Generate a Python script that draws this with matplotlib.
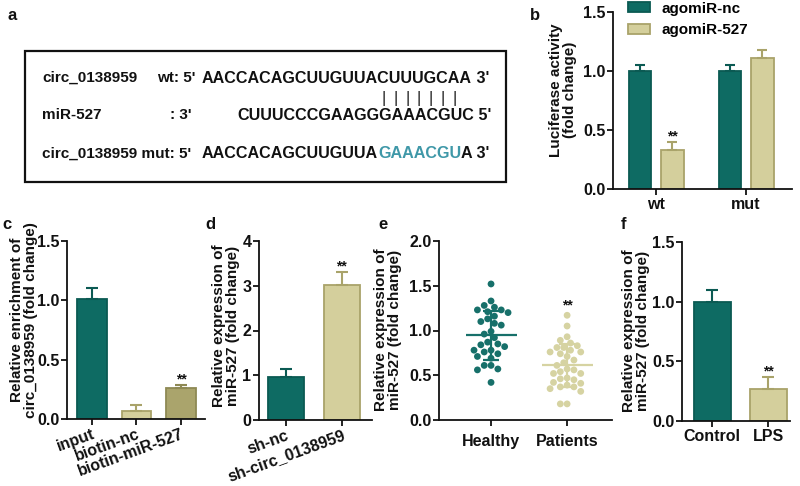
import numpy as np
import matplotlib
matplotlib.use('Agg')
import matplotlib.pyplot as plt
import matplotlib.transforms as mtransforms
from matplotlib.patches import Rectangle, Patch

plt.rcParams['font.family'] = ['Liberation Sans', 'DejaVu Sans']
plt.rcParams['font.weight'] = 'bold'
plt.rcParams['axes.labelweight'] = 'bold'

# ---------------- data ----------------
a_row1_label = "circ_0138959"
a_row1_mid = "wt: 5'"
a_wt_seq = "AACCACAGCUUGUUACUUUGCAA"
a_row2_label = "miR-527"
a_row2_mid = ": 3'"
a_mir_seq = "CUUUCCCGAAGGGAAACGUC"
a_row3_label = "circ_0138959 mut: 5'"
a_mut_prefix = "AACCACAGCUUGUUA"
a_mut_site = "GAAACGU"
a_mut_suffix = "A"

b_groups = ['wt', 'mut']
b_series = ['agomiR-nc', 'agomiR-527']
b_nc = [1.00, 1.00]
b_nc_err = [0.05, 0.05]
b_527 = [0.33, 1.11]
b_527_err = [0.07, 0.07]

c_cats = ['input', 'biotin-nc', 'biotin-miR-527']
c_vals = [1.01, 0.07, 0.26]
c_err = [0.09, 0.05, 0.03]

d_cats = ['sh-nc', 'sh-circ_0138959']
d_vals = [0.97, 3.02]
d_err = [0.18, 0.28]

e_cats = ['Healthy', 'Patients']
e_healthy = [1.52, 1.33, 1.28, 1.26, 1.23, 1.23, 1.21, 1.20, 1.16, 1.13, 1.10,
             1.08, 1.06, 0.99, 0.96, 0.92, 0.87, 0.85, 0.84, 0.82, 0.78, 0.78,
             0.76, 0.74, 0.71, 0.69, 0.61, 0.61, 0.57, 0.56, 0.42]
e_patients = [1.17, 1.05, 0.93, 0.89, 0.86, 0.83, 0.81, 0.81, 0.78, 0.76, 0.76,
              0.74, 0.71, 0.67, 0.64, 0.61, 0.57, 0.56, 0.54, 0.52, 0.52, 0.47,
              0.46, 0.45, 0.42, 0.41, 0.39, 0.37, 0.37, 0.35, 0.32, 0.18, 0.18]

f_cats = ['Control', 'LPS']
f_vals = [1.00, 0.27]
f_err = [0.10, 0.10]

# ---------------- style ----------------
TEAL = '#0e6b63'
TEAL_E = '#0b5a53'
KHAKI = '#d4cf9c'
KHAKI_E = '#a9a36a'
OLIVE = '#aaa46c'
OLIVE_E = '#8e8954'
DOT_T = '#17706a'
DOT_K = '#d6d3a2'
MUT_C = '#3f98a8'
INK = '#111111'

W, H = 800, 486
fig = plt.figure(figsize=(W / 100, H / 100), dpi=100)
renderer = fig.canvas.get_renderer()

FS = 11
SEQ_FS = 11.6
TFS = 11.5


def fx(x):
    return x / W


def fy(y):
    return 1 - y / H


def add_ax(l, r, t, b):
    return fig.add_axes([fx(l), fy(b), (r - l) / W, (b - t) / H])


def style(ax, ylim, yticks, fmt):
    for s in ['top', 'right']:
        ax.spines[s].set_visible(False)
    for s in ['left', 'bottom']:
        ax.spines[s].set_linewidth(1.3)
        ax.spines[s].set_color(INK)
    ax.set_ylim(*ylim)
    ax.set_yticks(yticks)
    ax.set_yticklabels([fmt.format(v) for v in yticks])
    ax.tick_params(direction='out', length=4, width=1.3, labelsize=TFS,
                   pad=1.5, colors=INK)
    ax.patch.set_alpha(0)


def up_err(ax, x, y, e, color, cap=4.5):
    ax.errorbar(x, y, yerr=[np.zeros(len(y)), e], fmt='none', ecolor=color,
                elinewidth=1.5, capsize=cap, capthick=1.5, zorder=3)


def stars(ax, x, y):
    ax.annotate('**', (x, y), xytext=(0, -1), textcoords='offset points',
                ha='center', va='bottom', fontsize=10, color=INK)


def label(x, y, s):
    fig.text(fx(x), fy(y), s, fontsize=12, fontweight='bold', ha='left',
             va='center', color=INK)


def ylab(x, y, s):
    fig.text(fx(x), fy(y), s, rotation=90, fontsize=FS, ha='center',
             va='center', multialignment='center', linespacing=1.05, color=INK)


# ---------------- panel a ----------------
label(8, 15, 'a')
fig.patches.append(Rectangle((fx(25), fy(182)), (506 - 25) / W, (182 - 51) / H,
                             transform=fig.transFigure, fill=False,
                             linewidth=1.6, edgecolor=INK))


def put(x, y, s, color=INK, fs=SEQ_FS):
    t = fig.text(fx(x), fy(y), s, fontsize=fs, ha='left', va='center',
                 color=color)
    return t.get_window_extent(renderer).width


def width(s, fs=SEQ_FS):
    t = fig.text(0, 0, s, fontsize=fs)
    w = t.get_window_extent(renderer).width
    t.remove()
    return w


SEQ_X = 202
put(42, 78, a_row1_label, fs=FS)
put(157, 78, a_row1_mid, fs=FS)
w1 = put(SEQ_X, 78, a_wt_seq)
put(SEQ_X + w1, 78, " 3'")

put(42, 115, a_row2_label, fs=FS)
put(170, 115, a_row2_mid, fs=FS)
mir_x = SEQ_X + width(a_wt_seq[:3])
w2 = put(mir_x, 115, a_mir_seq)
put(mir_x + w2, 115, " 5'")

for i in range(15, 22):
    cx = SEQ_X + width(a_wt_seq[:i]) + width(a_wt_seq[i]) / 2
    fig.text(fx(cx), fy(98), '|', fontsize=SEQ_FS, ha='center', va='center',
             color=INK, fontweight='normal')

put(42, 154, a_row3_label, fs=FS)
x = SEQ_X
x += put(x, 154, a_mut_prefix)
x += put(x, 154, a_mut_site, MUT_C)
put(x, 154, a_mut_suffix + " 3'")

# ---------------- panel b ----------------
label(530, 15, 'b')
axb = add_ax(613, 792, 12, 189)
xb = np.arange(len(b_groups))
off, bw = 0.183, 0.245
axb.bar(xb - off, b_nc, bw, color=TEAL, edgecolor=TEAL_E, linewidth=1.3,
        zorder=2, label=b_series[0])
axb.bar(xb + off, b_527, bw, color=KHAKI, edgecolor=KHAKI_E, linewidth=1.3,
        zorder=2, label=b_series[1])
up_err(axb, xb - off, b_nc, b_nc_err, TEAL_E, 3.5)
up_err(axb, xb + off, b_527, b_527_err, KHAKI_E, 3.5)
stars(axb, xb[0] + off, b_527[0] + b_527_err[0])
axb.set_xlim(-0.478, 1.511)
axb.set_xticks(xb)
axb.set_xticklabels(b_groups)
style(axb, (0, 1.5), [0, 0.5, 1.0, 1.5], '{:.1f}')
axb.legend(handles=[Patch(facecolor=TEAL, edgecolor=TEAL_E, linewidth=1.3),
                    Patch(facecolor=KHAKI, edgecolor=KHAKI_E, linewidth=1.3)],
           labels=b_series, loc='upper left',
           bbox_to_anchor=(fx(626), fy(0)), bbox_transform=fig.transFigure,
           frameon=False, fontsize=FS, handlelength=1.45, handleheight=0.6,
           handletextpad=0.8, labelspacing=0.5, borderpad=0.1,
           borderaxespad=0)
ylab(563, 90, 'Luciferase activity\n(fold change)')

# ---------------- panel c ----------------
label(2, 224, 'c')
axc = add_ax(67, 205, 241, 419)
xc = np.arange(len(c_cats))
c_fc = [TEAL, KHAKI, OLIVE]
c_ec = [TEAL_E, KHAKI_E, OLIVE_E]
axc.bar(xc, c_vals, 0.67, color=c_fc, edgecolor=c_ec, linewidth=1.3, zorder=2)
for i in range(len(c_cats)):
    up_err(axc, [xc[i]], [c_vals[i]], [c_err[i]], c_ec[i])
stars(axc, xc[2], c_vals[2] + c_err[2])
axc.set_xlim(-0.56, 2.54)
axc.set_xticks(xc)
axc.set_xticklabels(c_cats, rotation=20, ha='right', va='top',
                    rotation_mode='anchor')
style(axc, (0, 1.5), [0, 0.5, 1.0, 1.5], '{:.1f}')
ylab(24, 320, 'Relative enrichment of\ncirc_0138959 (fold change)')

# ---------------- panel d ----------------
label(205, 224, 'd')
axd = add_ax(259, 372, 241, 420)
xd = np.arange(len(d_cats))
d_fc = [TEAL, KHAKI]
d_ec = [TEAL_E, KHAKI_E]
axd.bar(xd, d_vals, 0.64, color=d_fc, edgecolor=d_ec, linewidth=1.3, zorder=2)
for i in range(len(d_cats)):
    up_err(axd, [xd[i]], [d_vals[i]], [d_err[i]], d_ec[i])
stars(axd, xd[1], d_vals[1] + d_err[1])
axd.set_xlim(-0.48, 1.54)
axd.set_xticks(xd)
axd.set_xticklabels(d_cats, rotation=20, ha='right', va='top',
                    rotation_mode='anchor')
shift = mtransforms.ScaledTranslation(6 / 100, 0, fig.dpi_scale_trans)
lbl = axd.get_xticklabels()[1]
lbl.set_transform(lbl.get_transform() + shift)
style(axd, (0, 4), [0, 1, 2, 3, 4], '{:d}')
ylab(226, 326, 'Relative expression of\nmiR-527 (fold change)')

# ---------------- panel e ----------------
label(378, 224, 'e')
axe = add_ax(439, 612, 241, 420)
PX_X, PX_Y, DIAM = 76.0, 179 / 2.0, 6.8


def swarm(vals, center):
    vals = np.asarray(vals, float)
    order = np.argsort(-vals)
    placed = []
    xs = np.zeros(len(vals))
    step = DIAM * 0.5
    for idx in order:
        yp = vals[idx] * PX_Y
        chosen = 0.0
        for k in range(0, 60):
            cands = [0.0] if k == 0 else [-k * step, k * step]
            ok = None
            for c in cands:
                if all((c - px) ** 2 + (yp - py) ** 2 >= (DIAM * 0.98) ** 2
                       for px, py in placed):
                    ok = c
                    break
            if ok is not None:
                chosen = ok
                break
        placed.append((chosen, yp))
        xs[idx] = center + chosen / PX_X
    return xs


for i, (vals, col) in enumerate([(e_healthy, DOT_T), (e_patients, DOT_K)]):
    xs = swarm(vals, i)
    axe.scatter(xs, vals, s=(DIAM * 0.72) ** 2, color=col, edgecolors='none',
                zorder=2, clip_on=False)
    m, sd = np.mean(vals), np.std(vals, ddof=1)
    axe.hlines(m, i - 0.335, i + 0.335, color=col, linewidth=1.6, zorder=3)
    axe.errorbar([i], [m], yerr=[[sd], [sd]], fmt='none', ecolor=col,
                 elinewidth=1.6, capsize=6, capthick=1.6, zorder=3)
stars(axe, 1, max(e_patients) + 0.05)
axe.set_xlim(-0.684, 1.59)
axe.set_xticks([0, 1])
axe.set_xticklabels(e_cats)
style(axe, (0, 2.0), [0, 0.5, 1.0, 1.5, 2.0], '{:.1f}')
axe.tick_params(axis='x', pad=6)
ylab(388, 330, 'Relative expression of\nmiR-527 (fold change)')

# ---------------- panel f ----------------
label(621, 224, 'f')
axf = add_ax(682, 790, 242, 421)
xf = np.arange(len(f_cats))
axf.bar(xf, f_vals, 0.66, color=[TEAL, KHAKI], edgecolor=[TEAL_E, KHAKI_E],
        linewidth=1.3, zorder=2)
for i, ec in enumerate([TEAL_E, KHAKI_E]):
    up_err(axf, [xf[i]], [f_vals[i]], [f_err[i]], ec)
stars(axf, xf[1], f_vals[1] + f_err[1])
axf.set_xlim(-0.536, 1.39)
axf.set_xticks(xf)
axf.set_xticklabels(f_cats)
style(axf, (0, 1.5), [0, 0.5, 1.0, 1.5], '{:.1f}')
ylab(636, 331, 'Relative expression of\nmiR-527 (fold change)')

fig.savefig('out.png', dpi=100, facecolor='white')
